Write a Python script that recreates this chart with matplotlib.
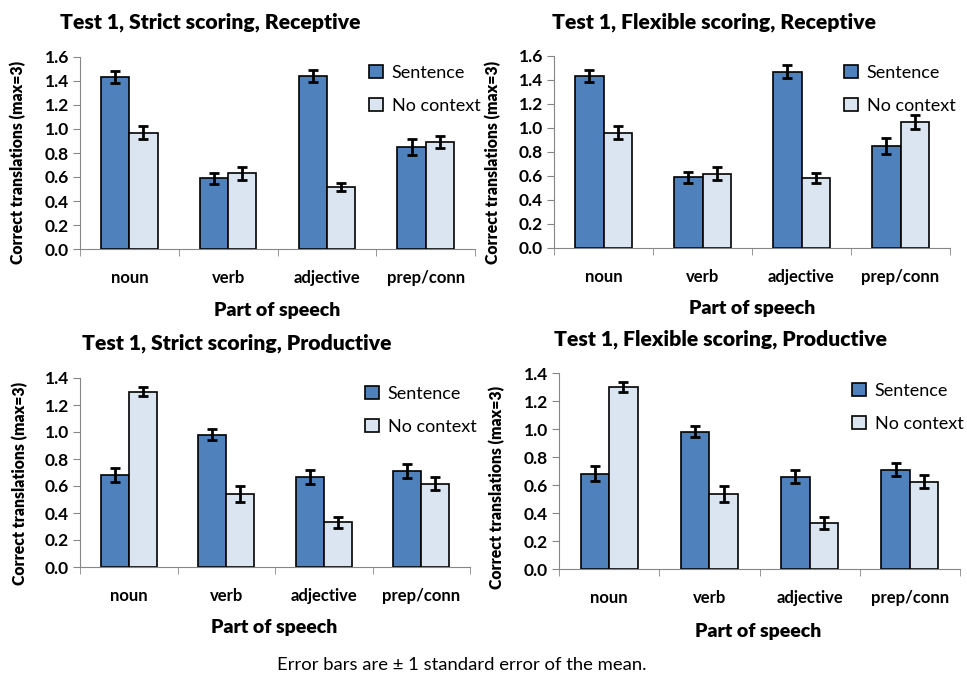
import matplotlib.pyplot as plt
import numpy as np

plt.rcParams['font.family'] = ['Lato', 'DejaVu Sans']

# data
categories = ["noun", "verb", "adjective", "prep/conn"]
series_names = ["Sentence", "No context"]

strict_rec_sent = [1.43, 0.59, 1.44, 0.85]
strict_rec_sent_err = [0.05, 0.045, 0.05, 0.065]
strict_rec_noctx = [0.97, 0.63, 0.52, 0.89]
strict_rec_noctx_err = [0.055, 0.055, 0.033, 0.05]

flex_rec_sent = [1.43, 0.59, 1.47, 0.85]
flex_rec_sent_err = [0.05, 0.047, 0.054, 0.068]
flex_rec_noctx = [0.96, 0.62, 0.58, 1.05]
flex_rec_noctx_err = [0.055, 0.055, 0.042, 0.058]

strict_prod_sent = [0.68, 0.98, 0.67, 0.71]
strict_prod_sent_err = [0.054, 0.041, 0.052, 0.052]
strict_prod_noctx = [1.30, 0.54, 0.33, 0.615]
strict_prod_noctx_err = [0.036, 0.057, 0.043, 0.048]

flex_prod_sent = [0.68, 0.98, 0.66, 0.71]
flex_prod_sent_err = [0.054, 0.038, 0.045, 0.049]
flex_prod_noctx = [1.30, 0.535, 0.33, 0.625]
flex_prod_noctx_err = [0.037, 0.056, 0.042, 0.044]

W, H = 967, 677
fig = plt.figure(figsize=(W / 100, H / 100), dpi=100)

sent_color = "#4F81BD"
noctx_color = "#DBE5F1"
axis_gray = "#868686"


def px_axes(l, t, r, b):
    return fig.add_axes([l / W, 1 - b / H, (r - l) / W, (b - t) / H])


def ftext(x, y, s, **kw):
    fig.text(x / W, 1 - y / H, s, ha="center", va="center", **kw)


def panel(box, ymax, sent, sent_err, noctx, noctx_err, title, title_xy,
          xlabel_xy, ylabel_xy, leg_xy):
    ax = px_axes(*box)
    x = np.arange(len(categories))
    w = 0.285
    ekw = dict(ecolor="black", elinewidth=2, capsize=3.5, capthick=2)
    ax.bar(x - w / 2, sent, w, color=sent_color, edgecolor="black",
           linewidth=1.2, yerr=sent_err, error_kw=ekw, label=series_names[0],
           zorder=2)
    ax.bar(x + w / 2, noctx, w, color=noctx_color, edgecolor="black",
           linewidth=1.2, yerr=noctx_err, error_kw=ekw, label=series_names[1],
           zorder=2)
    ax.set_xlim(-0.5, 3.5)
    ax.set_ylim(0, ymax)
    ticks = np.arange(0, ymax + 0.01, 0.2)
    ax.set_yticks(ticks)
    ax.set_yticklabels([f"{v:.1f}" for v in ticks], fontsize=12.5,
                       fontweight="bold")
    ax.set_xticks(x)
    ax.set_xticklabels(categories, fontsize=12, fontweight="bold")
    ax.set_xticks(np.arange(-0.5, 4, 1), minor=True)
    ax.tick_params(axis="x", which="major", length=0, pad=15)
    ax.tick_params(axis="x", which="minor", length=5, color=axis_gray,
                   direction="out")
    ax.tick_params(axis="y", length=5, color=axis_gray, pad=3)
    for s in ["top", "right"]:
        ax.spines[s].set_visible(False)
    for s in ["left", "bottom"]:
        ax.spines[s].set_color(axis_gray)
    ftext(*title_xy, title, fontsize=15.2, fontweight="heavy")
    ftext(*xlabel_xy, "Part of speech", fontsize=14, fontweight="heavy")
    ftext(*ylabel_xy, "Correct translations (max=3)", fontsize=11.3,
          fontweight="heavy", rotation=90)
    ax.legend(loc="upper left",
              bbox_to_anchor=(leg_xy[0] / W, 1 - leg_xy[1] / H),
              bbox_transform=fig.transFigure, frameon=False, fontsize=13,
              handlelength=0.75, handleheight=0.75, handletextpad=0.5,
              labelspacing=0.95, borderpad=0, borderaxespad=0)
    return ax


panel((80, 57, 475, 249), 1.6, strict_rec_sent, strict_rec_sent_err,
      strict_rec_noctx, strict_rec_noctx_err,
      "Test 1, Strict scoring, Receptive", (210, 22), (277, 310), (18, 162),
      (369, 65))
panel((554, 56, 950, 248), 1.6, flex_rec_sent, flex_rec_sent_err,
      flex_rec_noctx, flex_rec_noctx_err,
      "Test 1, Flexible scoring, Receptive", (714, 22), (752, 309), (493, 162),
      (844, 65))
panel((80, 378, 470, 567), 1.4, strict_prod_sent, strict_prod_sent_err,
      strict_prod_noctx, strict_prod_noctx_err,
      "Test 1, Strict scoring, Productive", (237, 343), (274, 628), (20, 483),
      (365, 386))
panel((559, 373, 960, 569), 1.4, flex_prod_sent, flex_prod_sent_err,
      flex_prod_noctx, flex_prod_noctx_err,
      "Test 1, Flexible scoring, Productive", (720, 339), (758, 632), (497, 487),
      (852, 383))

ftext(462, 665, "Error bars are \u00b1 1 standard error of the mean.", fontsize=13.3)

fig.savefig("out.png", dpi=100, facecolor="white")
